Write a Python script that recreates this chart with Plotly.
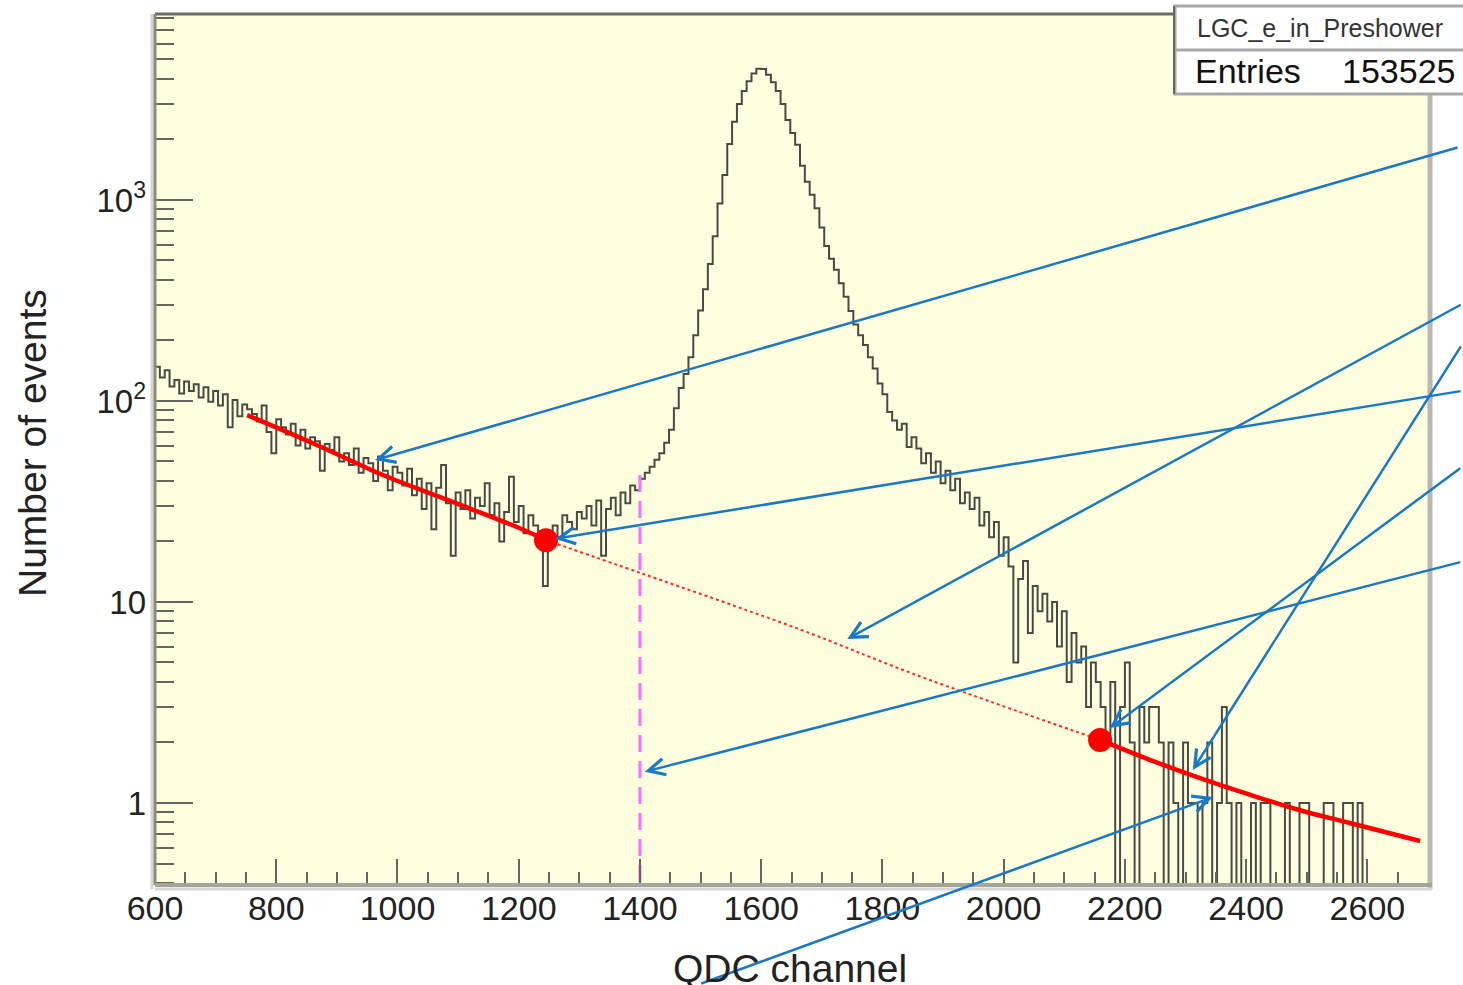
import math
import plotly.graph_objects as go

# ---- histogram: QDC spectrum, 8-channel bins starting at channel 600 ----
bin_width = 8
first_edge = 600
counts = [
    148, 131, 142, 118, 127, 109, 125, 112, 121, 104,
    117, 99, 112, 95, 108, 74, 101, 84, 96, 91,
    86, 79, 95, 70, 55, 81, 74, 68, 77, 60,
    72, 58, 66, 63, 45, 61, 57, 66, 50, 55,
    48, 58, 44, 52, 49, 40, 53, 45, 36, 47,
    44, 38, 46, 34, 41, 29, 39, 23, 37, 48,
    31, 17, 35, 29, 36, 26, 33, 30, 39, 27,
    31, 20, 28, 42, 25, 30, 22, 27, 24, 21,
    12, 22, 24, 21, 27, 25, 23, 28, 26, 30,
    24, 32, 17, 29, 33, 27, 35, 31, 38, 36,
    41, 44, 47, 51, 55, 62, 72, 92, 116, 136,
    165, 212, 282, 360, 480, 660, 960, 1330, 1900, 2450,
    3000, 3480, 3900, 4250, 4500, 4480, 4200, 3850, 3480, 3000,
    2500, 2150, 1880, 1480, 1230, 1060, 910, 730, 590, 510,
    450, 385, 330, 280, 240, 212, 190, 165, 145, 122,
    108, 88, 80, 72, 77, 59, 66, 58, 49, 55,
    44, 50, 39, 45, 36, 41, 31, 35, 29, 33,
    24, 28, 21, 25, 17, 21, 15, 5, 13, 16,
    7, 12, 9, 11, 8, 10, 6, 9, 4, 7,
    5, 6, 3, 5, 4, 3, 2, 4, 0, 3,
    5, 2, 0, 3, 2, 3, 3, 2, 0, 2,
    1, 0, 2, 1, 1, 0, 1, 2, 0, 1,
    3, 1, 0, 1, 0, 0, 1, 0, 1, 1,
    0, 0, 0, 1, 0, 0, 1, 1, 0, 0,
    0, 1, 1, 0, 0, 1, 1, 0, 1, 0,
    0, 0, 0, 0, 0, 0, 0, 0, 0, 0,
    0, 0, 0,
]
entries = 153525
hist_name = "LGC_e_in_Preshower"

# ---- background fit (three pieces) and the two matching points ----
fit_left_x = [752, 867, 976, 1087, 1197, 1245]
fit_left_y = [85, 60.4, 42.8, 31.8, 23.6, 20.3]
fit_mid_x = [1245, 1405, 1664, 1850, 2159]
fit_mid_y = [20.3, 13.8, 7.3, 4.4, 2.06]
fit_right_x = [2159, 2241, 2324, 2406, 2489, 2571, 2687]
fit_right_y = [2.06, 1.64, 1.33, 1.10, 0.92, 0.795, 0.647]
match_x = [1245, 2159]
match_y = [20.3, 2.06]

# ---- threshold marker ----
cut_channel = 1400
cut_top = 44

# ---- arrow pointers: head (channel, counts) and tail offset in pixels ----
arrow_heads = [(963, 50.8), (1260, 20.6), (1742, 6.55), (1408, 1.43),
               (2175, 2.36), (2312, 1.46), (2345, 1.07)]
arrow_tails = [(1084, -313), (907, -148), (615, -335), (817, -210),
               (352, -261), (269, -425), (-513, 187)]

# ---- frame geometry (pixels) ----
W, H = 1463, 985
L, R, T, B = 155, 1428, 14, 885
X_RANGE = [600, 2700]
Y_RANGE = [-0.408, 3.925]


def px(xp):
    return (xp - L) / (R - L)


def py(yp):
    return (B - yp) / (B - T)


FONT = "Liberation Sans, Arial, Helvetica, sans-serif"
floor = 1e-3  # empty bins fall below the log axis, as in a ROOT hist
edges = [first_edge + bin_width * i for i in range(len(counts) + 1)]
step_y = [c if c > 0 else floor for c in counts]
step_y.append(step_y[-1])

fig = go.Figure()

fig.add_trace(go.Scatter(
    x=edges, y=step_y, mode="lines", line_shape="hv",
    line=dict(color="#4a4a44", width=2), hoverinfo="skip"))

fig.add_trace(go.Scatter(
    x=[cut_channel, cut_channel], y=[0.3, cut_top], mode="lines",
    line=dict(color="rgb(255,110,255)", width=3, dash="17px,9px")))

fig.add_trace(go.Scatter(
    x=fit_mid_x, y=fit_mid_y, mode="lines", line_shape="spline",
    line=dict(color="rgb(255,40,40)", width=2, dash="dot")))
for fx, fy in ((fit_left_x, fit_left_y), (fit_right_x, fit_right_y)):
    fig.add_trace(go.Scatter(
        x=fx, y=fy, mode="lines", line_shape="spline",
        line=dict(color="#ff0000", width=4.5)))

fig.add_trace(go.Scatter(
    x=match_x, y=match_y, mode="markers",
    marker=dict(color="#ff0000", size=24, line=dict(width=0))))

annotations = []
for (hx, hy), (ax, ay) in zip(arrow_heads, arrow_tails):
    annotations.append(dict(
        x=hx, y=math.log10(hy), xref="x", yref="y", text="",
        showarrow=True, ax=ax, ay=ay, axref="pixel", ayref="pixel",
        arrowhead=5, arrowsize=1.3, arrowwidth=2.5, arrowcolor="#1a78c8",
        standoff=0, startstandoff=0))

annotations += [
    dict(x=px(790), y=py(968), xref="paper", yref="paper", text="QDC channel",
         showarrow=False, font=dict(family=FONT, size=39, color="#222"),
         xanchor="center", yanchor="middle"),
    dict(x=px(32), y=py(443), xref="paper", yref="paper", text="Number of events",
         showarrow=False, textangle=-90, font=dict(family=FONT, size=39, color="#222"),
         xanchor="center", yanchor="middle"),
    dict(x=px(1320), y=py(28), xref="paper", yref="paper", text=hist_name,
         showarrow=False, font=dict(family=FONT, size=25, color="#333"),
         xanchor="center", yanchor="middle"),
    dict(x=px(1193), y=py(71), xref="paper", yref="paper", text="Entries",
         showarrow=False, font=dict(family=FONT, size=34, color="#111"),
         xanchor="left", yanchor="middle"),
    dict(x=px(1457), y=py(71), xref="paper", yref="paper", text=str(entries),
         showarrow=False, font=dict(family=FONT, size=34, color="#111"),
         xanchor="right", yanchor="middle"),
]

shapes = [
    # frame edges
    dict(type="line", xref="paper", yref="paper", x0=px(L), x1=px(R), y0=py(T), y1=py(T),
         line=dict(color="#6b6b60", width=3)),
    dict(type="line", xref="paper", yref="paper", x0=px(L - 3), x1=px(L - 3), y0=py(B + 4), y1=py(T),
         line=dict(color="#d4d4cc", width=3)),
    dict(type="line", xref="paper", yref="paper", x0=px(L), x1=px(L), y0=py(B), y1=py(T),
         line=dict(color="#8a8a7a", width=3)),
    dict(type="line", xref="paper", yref="paper", x0=px(R + 2), x1=px(R + 2), y0=py(B + 4), y1=py(T),
         line=dict(color="#b8b8b0", width=5)),
    dict(type="line", xref="paper", yref="paper", x0=px(L), x1=px(R + 4), y0=py(B), y1=py(B),
         line=dict(color="#a4a498", width=4)),
    dict(type="line", xref="paper", yref="paper", x0=px(L), x1=px(R + 4), y0=py(B + 4), y1=py(B + 4),
         line=dict(color="#d6d6d2", width=3)),
    # statistics box
    dict(type="rect", xref="paper", yref="paper", x0=px(1175), x1=px(1480), y0=py(94), y1=py(6),
         fillcolor="white", line=dict(color="#a8a8a8", width=3)),
    dict(type="line", xref="paper", yref="paper", x0=px(1175), x1=px(1480), y0=py(50), y1=py(50),
         line=dict(color="#a8a8a8", width=3)),
    dict(type="line", xref="paper", yref="paper", x0=px(1174), x1=px(1174), y0=py(94), y1=py(6),
         line=dict(color="#666660", width=2)),
]

y_minor = [m * 10 ** d for d in range(-1, 4) for m in range(2, 10)]

fig.update_layout(
    width=W, height=H,
    margin=dict(l=L, r=W - R, t=T, b=H - B, pad=0),
    paper_bgcolor="white", plot_bgcolor="#ffffe0",
    showlegend=False,
    font=dict(family=FONT, color="#222"),
    annotations=annotations,
    shapes=shapes,
    xaxis=dict(
        range=X_RANGE, showgrid=False, zeroline=False, showline=False,
        tickmode="array", tickvals=list(range(600, 2601, 200)),
        ticks="inside", ticklen=26, tickwidth=2, tickcolor="#666660",
        tickfont=dict(family=FONT, size=34, color="#222"),
        minor=dict(tickmode="linear", tick0=600, dtick=50, ticks="inside",
                   ticklen=13, tickwidth=2, tickcolor="#666660"),
    ),
    yaxis=dict(
        type="log", range=Y_RANGE, showgrid=False, zeroline=False, showline=False,
        tickmode="array", tickvals=[1, 10, 100, 1000],
        ticktext=["1", "10", "10<sup>2</sup>", "10<sup>3</sup>"],
        ticks="inside", ticklen=38, tickwidth=2, tickcolor="#666660",
        ticklabelstandoff=8,
        tickfont=dict(family=FONT, size=33, color="#222"),
        minor=dict(tickmode="array", tickvals=y_minor, ticks="inside",
                   ticklen=19, tickwidth=2, tickcolor="#666660"),
    ),
)

fig.write_html("out.html")
